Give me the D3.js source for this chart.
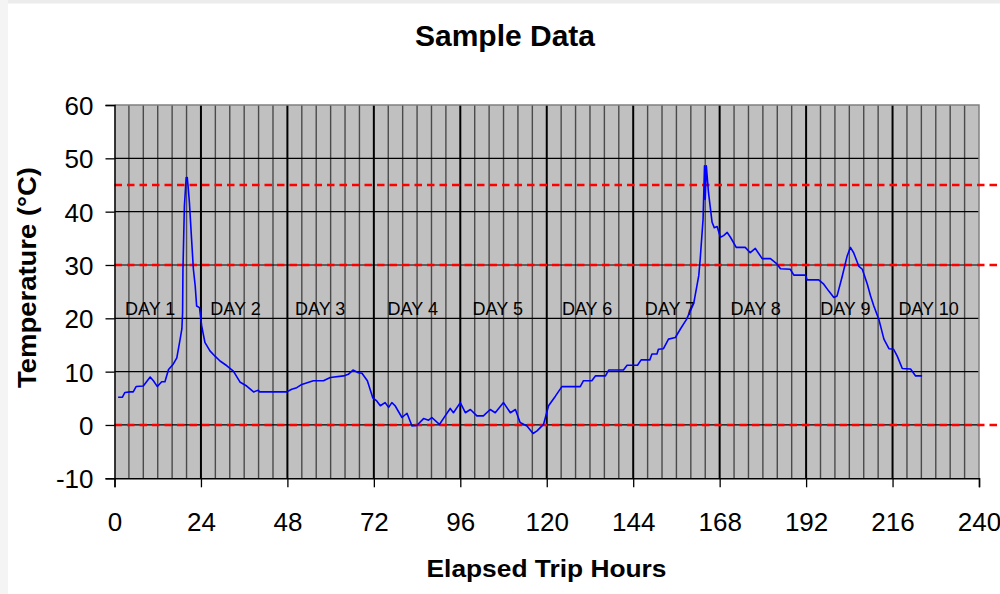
<!DOCTYPE html>
<html>
<head>
<meta charset="utf-8">
<script src="https://cdn.jsdelivr.net/npm/d3@7"></script>
<style>
  body { margin: 0; background: #fff; }
  svg { display: block; font-family: Arial, "Liberation Sans", sans-serif; }
</style>
</head>
<body>
<script>
// elapsed hours and temperature
var hours = [1, 2.2, 2.9, 4.3, 5.2, 6, 8, 9.9, 10.8, 11.9, 13.1, 14, 15, 16.3, 17.3, 18.2, 18.7, 18.9, 19.0, 19.4,
  19.9, 20.2, 20.5, 20.8, 21.4, 21.9, 22.4, 22.8, 23.6, 24.2, 25.1, 26.5, 27.9, 29.3, 31.2, 33, 34.9, 36.7, 38.6, 39.9,
  40.3, 47.8, 49.2, 50.6, 52, 55.2, 58, 59.9, 63.6, 64.9, 66.2, 67.7, 68.7, 70.2, 71.7, 72.8, 73.8, 75.1, 76.1, 77,
  77.9, 79.8, 81.2, 82.6, 83.9, 85.8, 87.2, 88.1, 90.2, 91.8, 93.2, 94.1, 96, 97.4, 98.8, 100.6, 102.4, 104.3, 105.7, 108,
  109.9, 111.3, 112.6, 114.5, 116.2, 117.3, 119.1, 120.5, 122.4, 124.2, 129.3, 130.2, 132.5, 133.5, 136.3, 137.2, 141.3, 142.3, 145.2, 146.2,
  148.6, 149.2, 150.6, 151, 152.4, 153.8, 155.7, 157.1, 158.8, 160.8, 162.2, 162.6, 163.4, 163.8, 164, 164.3, 164.9, 165.9, 166.5, 167.3,
  168.2, 169.1, 170.1, 171, 172.6, 175.1, 176.5, 177.9, 179.8, 182.1, 183.9, 184.9, 187.6, 188.6, 191.8, 192.3, 195.5, 196.9, 198.3, 199.7,
  200.6, 202, 203.4, 204.3, 205.2, 206.6, 207.6, 209, 209.9, 210.8, 212.2, 213.6, 215, 216.3, 217.3, 218.7, 221, 222.4, 224.2];
var temps = [5.2, 5.2, 6.1, 6.2, 6.2, 7.2, 7.3, 9.0, 8.3, 7.2, 8.1, 8.1, 10.4, 11.4, 12.6, 16, 18, 21, 29, 41,
  46.4, 46.4, 44.2, 41.7, 34.8, 29.2, 26.1, 22.3, 22, 18.6, 15.5, 13.9, 12.9, 12, 11.1, 10.1, 8, 7.3, 6.2, 6.5,
  6.2, 6.2, 6.7, 7.0, 7.6, 8.3, 8.3, 8.9, 9.2, 9.5, 10.3, 9.8, 9.7, 8.3, 5.1, 4.5, 3.6, 4.2, 3.3, 4.2,
  3.6, 1.4, 2.2, -0.2, -0.1, 1.2, 0.9, 1.4, 0.1, 1.7, 3.1, 2.3, 4.2, 2.3, 2.9, 1.7, 1.7, 2.9, 2.3, 4.2,
  2.3, 2.9, 0.45, -0.2, -1.6, -1.1, 0.1, 3.6, 5.4, 7.2, 7.2, 8.3, 8.3, 9.2, 9.2, 10.3, 10.3, 11.2, 11.2, 12.2,
  12.2, 13.3, 13.3, 14.2, 14.3, 16.1, 16.4, 18, 19.8, 22.8, 28, 31.1, 38.6, 48.6, 42.3, 48.6, 43.6, 38, 37, 37.2,
  35.2, 35.5, 36.1, 35.2, 33.3, 33.3, 32.3, 33.1, 31.2, 31.2, 30.2, 29.3, 29.2, 28.1, 28.1, 27.2, 27.2, 26.4, 25.1, 23.9,
  24.2, 27.8, 31.7, 33.3, 32.3, 29.8, 29.2, 26.4, 24.2, 22.3, 19.8, 16.1, 14.3, 14.2, 12.9, 10.6, 10.5, 9.2, 9.2];

var xTicks = [0, 24, 48, 72, 96, 120, 144, 168, 192, 216, 240];
var yTicks = [-10, 0, 10, 20, 30, 40, 50, 60];
var limitLines = [45, 30, 0];
var dayNames = ["DAY 1", "DAY 2", "DAY 3", "DAY 4", "DAY 5", "DAY 6", "DAY 7", "DAY 8", "DAY 9", "DAY 10"];
var dayHours = [9.9, 33.6, 57.1, 82.8, 106.4, 131.2, 154.2, 178, 202.9, 226];
var dayLabelTemp = 20.6;

var fullWidth = 1000, fullHeight = 594,
    margin = { top: 105, left: 114.5 },
    width = 864.5,
    height = 373.3;

var svg = d3.select("body").append("svg")
    .attr("width", fullWidth).attr("height", fullHeight);

// screenshot frame edges
svg.append("rect").attr("x", 0).attr("y", 0).attr("width", fullWidth).attr("height", 3.5).attr("fill", "#ececec");
svg.append("rect").attr("x", 0).attr("y", 0).attr("width", 8).attr("height", fullHeight).attr("fill", "#f4f4f4");

var x = d3.scaleLinear().domain([0, 240]).range([0, width]),
    y = d3.scaleLinear().domain([-10, 60]).range([height, 0]);

var g = svg.append("g").attr("transform", "translate(" + margin.left + "," + margin.top + ")");

g.append("rect").attr("width", width).attr("height", height).attr("fill", "#c0c0c0");

// vertical grid: every 4 hours, heavier every 24
var minorHours = d3.range(4, 240, 4);
g.selectAll(".vgrid").data(minorHours).enter().append("line")
    .attr("x1", d => x(d)).attr("x2", d => x(d))
    .attr("y1", 0).attr("y2", height)
    .attr("stroke", d => d % 24 ? "#4a4a4a" : "#000")
    .attr("stroke-width", d => d % 24 ? 1.4 : 2);

g.selectAll(".hgrid").data(yTicks.filter(d => d > -10 && d < 60)).enter().append("line")
    .attr("x1", 0).attr("x2", width)
    .attr("y1", d => y(d)).attr("y2", d => y(d))
    .attr("stroke", "#000").attr("stroke-width", 1.2);

// plot border top / right
g.append("path")
    .attr("d", "M0,0H" + width + "V" + height)
    .attr("fill", "none").attr("stroke", "#808080").attr("stroke-width", 1.5);

g.selectAll(".day").data(dayNames).enter().append("text")
    .attr("x", (d, i) => x(dayHours[i])).attr("y", y(dayLabelTemp))
    .attr("text-anchor", "middle")
    .style("font-size", "18px").attr("fill", "#000")
    .text(d => d);

g.selectAll(".limit").data(limitLines).enter().append("line")
    .attr("x1", 0).attr("x2", 883)
    .attr("y1", d => y(d)).attr("y2", d => y(d))
    .attr("stroke", "#ff0000").attr("stroke-width", 2.5)
    .attr("stroke-dasharray", "7.5,5");

var line = d3.line().x((d, i) => x(hours[i])).y(d => y(d));
g.append("path").attr("d", line(temps))
    .attr("fill", "none").attr("stroke", "#0000ff").attr("stroke-width", 1.6)
    .attr("stroke-linejoin", "round");

// axes
var yAxis = d3.axisLeft(y).tickValues(yTicks).tickFormat(d => String(d)).tickSize(9).tickPadding(12);
var xAxis = d3.axisBottom(x).tickValues(xTicks).tickFormat(d => String(d)).tickSize(9).tickPadding(25);

var ya = g.append("g").call(yAxis);
var xa = g.append("g").attr("transform", "translate(0," + height + ")").call(xAxis);

[ya, xa].forEach(function(a) {
  a.select(".domain").attr("stroke", "#000").attr("stroke-width", 1.5);
  a.selectAll(".tick line").attr("stroke", "#000").attr("stroke-width", 1.3);
  a.selectAll(".tick text").attr("fill", "#000")
      .style("font-size", "26px").style("font-family", "Arial, 'Liberation Sans', sans-serif");
});
ya.selectAll(".tick text").attr("dy", "0.36em");
xa.selectAll(".tick text").attr("dy", "0.71em");

svg.append("text")
    .attr("x", 505).attr("y", 46)
    .attr("text-anchor", "middle")
    .style("font-size", "30px").style("font-weight", "bold")
    .text("Sample Data");

svg.append("text")
    .attr("x", 546.5).attr("y", 577)
    .attr("text-anchor", "middle")
    .attr("textLength", 240).attr("lengthAdjust", "spacingAndGlyphs")
    .style("font-size", "23px").style("font-weight", "bold")
    .text("Elapsed Trip Hours");

svg.append("text")
    .attr("transform", "translate(36,277.5) rotate(-90)")
    .attr("text-anchor", "middle")
    .attr("textLength", 221).attr("lengthAdjust", "spacingAndGlyphs")
    .style("font-size", "25px").style("font-weight", "bold")
    .text("Temperature (°C)");
</script>
</body>
</html>
